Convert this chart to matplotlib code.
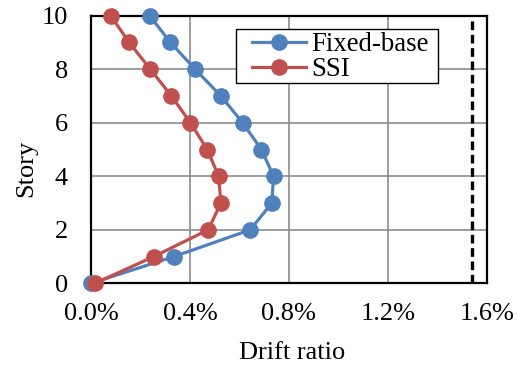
import matplotlib
matplotlib.use("Agg")
import matplotlib.pyplot as plt
from matplotlib.patches import Rectangle
from matplotlib.ticker import PercentFormatter, MultipleLocator

plt.rcParams["font.family"] = ["Liberation Serif", "DejaVu Serif"]

# Story drift ratios in percent
stories = [0, 1, 2, 3, 4, 5, 6, 7, 8, 9, 10]
fixed_base = [0.0, 0.336, 0.644, 0.731, 0.738, 0.689, 0.613, 0.525, 0.421, 0.321, 0.237]
ssi = [0.016, 0.254, 0.474, 0.525, 0.516, 0.470, 0.402, 0.325, 0.240, 0.154, 0.080]
drift_limit = 1.54  # dashed limit line

fig = plt.figure(figsize=(5.18, 3.65), dpi=100)
ax = fig.add_axes([0.1757, 0.2238, 0.9396 - 0.1757, 0.957 - 0.2238])

ax.plot(fixed_base, stories, color="#4F81BD", lw=2.3, marker="o", ms=11,
        label="Fixed-base", clip_on=False, zorder=3)
ax.plot(ssi, stories, color="#C0504D", lw=2.3, marker="o", ms=11,
        label="SSI", clip_on=False, zorder=4)
ax.axvline(drift_limit, color="black", lw=2.4, linestyle=(0, (2.6, 1.4)), zorder=2)

ax.set_xlim(0, 1.6)
ax.set_ylim(0, 10)
ax.xaxis.set_major_locator(MultipleLocator(0.4))
ax.yaxis.set_major_locator(MultipleLocator(2))
ax.xaxis.set_major_formatter(PercentFormatter(decimals=1))
ax.grid(True, color="#8c8c8c", lw=1.2)
ax.set_axisbelow(True)
ax.tick_params(length=0, labelsize=19)
ax.tick_params(axis="x", pad=14)
ax.tick_params(axis="y", pad=16.5)
for s in ax.spines.values():
    s.set_linewidth(1.6)
    s.set_color("black")

ax.set_xlabel("Drift ratio", fontsize=19)
ax.xaxis.label.set_va("baseline")
ax.xaxis.set_label_coords(0.507, -0.283)
ax.set_ylabel("Story", fontsize=19)
ax.yaxis.label.set(va="center", ha="center", rotation_mode="anchor")
ax.yaxis.set_label_coords(-0.164, 0.43)

# legend box drawn separately: Excel-style wide left padding
ax.add_patch(Rectangle((0.3664, 0.7485), 0.5113, 0.2018, transform=ax.transAxes,
                       facecolor="white", edgecolor="black", lw=1.0, zorder=5))
leg = ax.legend(loc="upper left", bbox_to_anchor=(0.408, 0.938), fontsize=19.3,
                frameon=False, borderpad=0, labelspacing=0.0, handlelength=2.0,
                handletextpad=0.18, borderaxespad=0)
leg.set_zorder(6)

fig.savefig("out.png", dpi=100)
